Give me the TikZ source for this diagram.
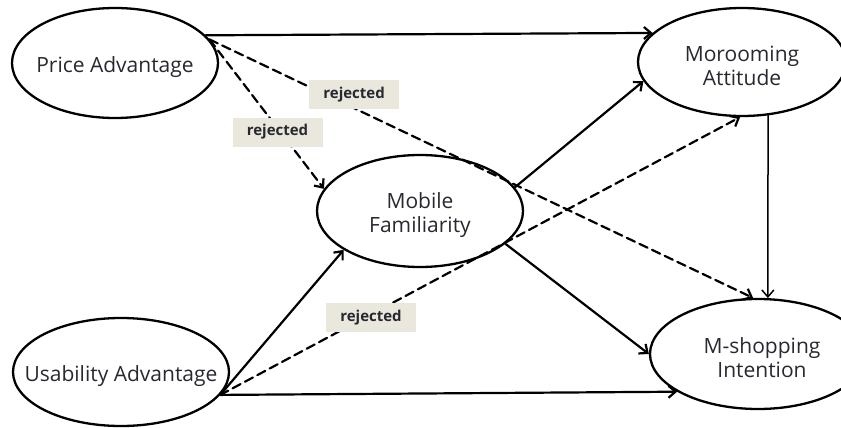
\documentclass[tikz,border=0pt]{standalone}
\usepackage{fontspec}
\setmainfont{Open Sans}
\usetikzlibrary{arrows.meta,shapes.geometric}
\definecolor{tagbg}{RGB}{234,232,221}
\definecolor{txt}{RGB}{40,40,48}

\begin{document}
\begin{tikzpicture}[x=1pt,y=-1pt,>={Straight Barb[length=7pt,width=12pt]},line cap=round,
  latent/.style={ellipse,draw,line width=2.3pt,inner sep=0pt},
  caption/.style={text=txt,align=center,yshift=-4pt,font=\fontsize{21}{24}\selectfont},
  effect/.style={->,line width=2.2pt},
  reject/.style={effect,dash pattern=on 9pt off 5pt},
  tag/.style={fill=tagbg,minimum width=90pt,minimum height=29pt,inner sep=0pt,text=txt,font=\bfseries\fontsize{15}{17}\selectfont}]
\clip (0,0) rectangle (841,428);
\node[latent,minimum width=206pt,minimum height=110pt,label={[caption]center:Price Advantage}] (pa) at (115,63) {};
\node[latent,minimum width=216pt,minimum height=108pt,label={[caption]center:Usability Advantage}] (ua) at (121,372) {};
\node[latent,minimum width=206pt,minimum height=112pt,label={[caption]center:Mobile\\Familiarity}] (mf) at (420,211) {};
\node[latent,minimum width=208pt,minimum height=108pt,label={[caption]center:Morooming\\Attitude}] (ma) at (742,62) {};
\node[latent,minimum width=216pt,minimum height=110pt,label={[caption,xshift=4pt]center:M-shopping\\Intention}] (mi) at (758,354) {};
% paths
\draw[effect] (pa.17) -- (ma.162);
\draw[reject] (pa.14) -- node[tag,pos=0.62,xshift=-3pt] (r1) {rejected} (mf.167);
\draw[reject] (pa.14) -- node[tag,pos=0.266,yshift=14pt] (r2) {rejected} (mi.95);
\draw[effect] (ua.-13) -- (mf.207);
\draw[reject] (ua.-13) -- node[tag,pos=0.29,yshift=-3pt] (r3) {rejected} (ma.-92);
\draw[effect] (ua.-13) -- (mi.205);
\draw[effect] (mf.14) -- (ma.191);
\draw[effect] (mf.-21) -- (mi.180);
\draw[->,line width=1.5pt] (ma.-64) -- (mi.80);
\end{tikzpicture}
\end{document}
